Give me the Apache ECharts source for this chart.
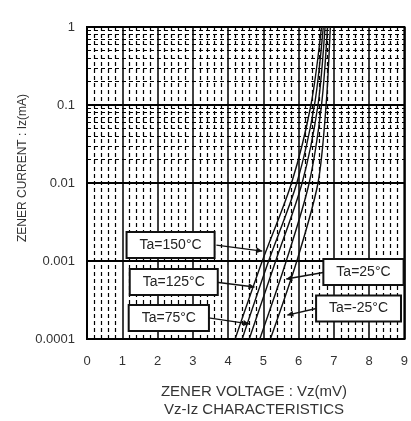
<!DOCTYPE html>
<html><head><meta charset="utf-8">
<script src="https://cdn.jsdelivr.net/npm/echarts@6/dist/echarts.min.js"></script>
<style>html,body{margin:0;padding:0;background:#fff}#c{width:411px;height:421px}</style>
</head><body><div id="c"></div>
<script>
// ---- data ----
const xTicks = [0,1,2,3,4,5,6,7,8,9];
const yTickLabels = ['0.0001','0.001','0.01','0.1','1'];
const izLevels = [0.0001, 0.001, 0.01, 0.1, 1];           // mA
const vz150 = [4.20, 4.97, 5.80, 6.35, 6.65];
const vz125 = [4.40, 5.15, 5.95, 6.45, 6.70];
const vz75  = [4.60, 5.35, 6.10, 6.55, 6.75];
const vz25  = [4.90, 5.65, 6.30, 6.65, 6.82];
const vzM25 = [5.20, 5.95, 6.55, 6.78, 6.90];
const seriesNames = ['Ta=150°C','Ta=125°C','Ta=75°C','Ta=25°C','Ta=-25°C'];
const seriesVz = [vz150, vz125, vz75, vz25, vzM25];
// annotations: label, box centre [Vz, Iz], arrow start, arrow tip
const annText  = ['Ta=150°C','Ta=125°C','Ta=75°C','Ta=25°C','Ta=-25°C'];
const annBox   = [[2.37,0.0016],[2.46,0.000538],[2.32,0.000186],[7.84,0.000723],[7.70,0.000246]];
const annFrom  = [[3.67,0.0016],[3.62,0.000538],[3.45,0.000186],[6.78,0.000723],[6.50,0.000246]];
const annTo    = [[4.97,0.00134],[4.75,0.000464],[4.60,0.000156],[5.65,0.000588],[5.68,0.000203]];

// minor horizontal grid values (2..9 per decade)
const minorY = [];
for (let d = 0; d < izLevels.length - 1; d++) for (let m = 2; m <= 9; m++) minorY.push(+(izLevels[d]*m).toPrecision(3));

const FONT = 'Liberation Sans';
const chart = echarts.init(document.getElementById('c'));
const series = seriesNames.map((n, i) => ({
  name: n, type: 'line', smooth: 0.3, showSymbol: false, silent: true,
  data: seriesVz[i].map((v, k) => [v, izLevels[k]]),
  lineStyle: { color: '#111', width: 1.4 }, z: 5
}));
series.push({
  type: 'line', data: [], silent: true,
  markLine: { silent: true, symbol: 'none', label: { show: false },
    lineStyle: { color: '#000', width: 1.2, type: [4, 3] },
    data: minorY.map(v => ({ yAxis: v })) }
});
chart.setOption({
  animation: false,
  grid: { left: 87, right: 5, top: 27, bottom: 82, show: true, borderColor: '#000', borderWidth: 2 },
  xAxis: {
    type: 'value', min: 0, max: 9, interval: 1,
    axisLine: { show: true, lineStyle: { color: '#000', width: 2 } },
    axisTick: { show: false },
    axisLabel: { margin: 16, fontFamily: FONT, fontSize: 13, color: '#333',
      formatter: v => xTicks.includes(v) ? String(v) : '' },
    splitLine: { show: true, lineStyle: { color: '#000', width: 1.5 } },
    minorTick: { show: false, splitNumber: 5 },
    minorSplitLine: { show: true, lineStyle: { color: '#000', width: 1.2, type: [4, 3] } }
  },
  yAxis: {
    type: 'log', logBase: 10, min: 0.0001, max: 1,
    axisLine: { show: true, lineStyle: { color: '#000', width: 2 } },
    axisTick: { show: false },
    axisLabel: { margin: 12, fontFamily: FONT, fontSize: 13, color: '#333',
      formatter: v => { const i = izLevels.findIndex(t => Math.abs(Math.log10(t) - Math.log10(v)) < 1e-6); return i >= 0 ? yTickLabels[i] : ''; } },
    splitLine: { show: true, lineStyle: { color: '#000', width: 2 } }
  },
  series: series
});

const g = [];
g.push({ type: 'text', x: 23, y: 168, rotation: Math.PI/2,
  style: { text: 'ZENER CURRENT : Iz(mA)', font: '12px ' + FONT, fill: '#333', align: 'center', verticalAlign: 'middle' } });
g.push({ type: 'text', x: 254, y: 392,
  style: { text: 'ZENER VOLTAGE : Vz(mV)', font: '15px ' + FONT, fill: '#333', align: 'center', verticalAlign: 'middle' } });
g.push({ type: 'text', x: 254, y: 410,
  style: { text: 'Vz-Iz CHARACTERISTICS', font: '15px ' + FONT, fill: '#333', align: 'center', verticalAlign: 'middle' } });
annText.forEach((t, i) => {
  const c = chart.convertToPixel({ gridIndex: 0 }, annBox[i]);
  const a = chart.convertToPixel({ gridIndex: 0 }, annFrom[i]);
  const b = chart.convertToPixel({ gridIndex: 0 }, annTo[i]);
  g.push({ type: 'line', z: 20, shape: { x1: a[0], y1: a[1], x2: b[0], y2: b[1] }, style: { stroke: '#111', lineWidth: 1.3 } });
  const ang = Math.atan2(b[1] - a[1], b[0] - a[0]);
  const L = 6, W = 3;
  const p1 = [b[0] - L*Math.cos(ang) + W*Math.sin(ang), b[1] - L*Math.sin(ang) - W*Math.cos(ang)];
  const p2 = [b[0] - L*Math.cos(ang) - W*Math.sin(ang), b[1] - L*Math.sin(ang) + W*Math.cos(ang)];
  g.push({ type: 'polygon', z: 20, shape: { points: [b, p1, p2] }, style: { fill: '#111' } });
  g.push({ type: 'text', z: 30, x: c[0], y: c[1],
    style: { text: t, font: '14px ' + FONT, fill: '#222', align: 'center', verticalAlign: 'middle',
      backgroundColor: '#fff', borderColor: '#111', borderWidth: 2, padding: [5, 12] } });
});
chart.setOption({ graphic: g });
</script></body></html>
